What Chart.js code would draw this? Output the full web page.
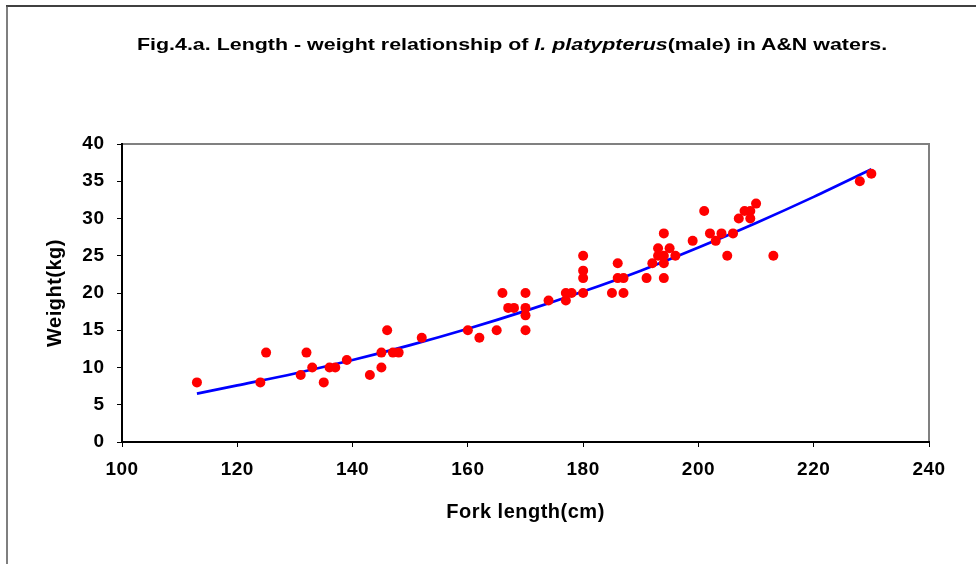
<!DOCTYPE html>
<html>
<head>
<meta charset="utf-8">
<script src="https://cdn.jsdelivr.net/npm/chart.js@4/dist/chart.umd.min.js"></script>
<style>
  body { margin: 0; background: #fff; }
  #wrap { position: relative; width: 976px; height: 564px; }
  #titulo {
    position: absolute; left: 0; width: 1024px; top: 35px;
    text-align: center; font: bold 17px "Liberation Sans", Arial, sans-serif;
    transform: scaleX(1.26); transform-origin: 512px 0; color: #000;
    white-space: nowrap;
  }
</style>
</head>
<body>
<div id="wrap">
  <canvas id="chart" width="976" height="564"></canvas>
  <div id="titulo">Fig.4.a. Length - weight relationship of <i>I. platypterus</i>(male) in A&amp;N waters.</div>
</div>
<script>
// Dados
const forkLength = [113, 124, 125, 131, 132, 133, 135, 136, 137, 139,
  143, 145, 145, 146, 147, 148, 152, 160, 162, 165,
  166, 167, 168, 170, 170, 170, 170, 174, 177, 177,
  178, 180, 180, 180, 180, 185, 186, 186, 187, 187,
  191, 192, 193, 193, 194, 194, 194, 194, 195, 196,
  199, 201, 202, 203, 204, 205, 206, 207, 208, 209,
  209, 210, 213, 228, 230];
const weight = [8, 8, 12, 9, 12, 10, 8, 10, 10, 11,
  9, 10, 12, 15, 12, 12, 14, 15, 14, 15,
  20, 18, 18, 20, 18, 17, 15, 19, 20, 19,
  20, 20, 22, 23, 25, 20, 22, 24, 22, 20,
  22, 24, 26, 25, 28, 24, 22, 25, 26, 25,
  27, 31, 28, 27, 28, 25, 28, 30, 31, 31,
  30, 32, 25, 35, 36];

// Curva de tendência (potência)
const curveLength = [113, 120, 130, 140, 150, 160, 170, 180, 190, 200, 210, 220, 230];
const curveWeight = [6.5, 7.6, 9.2, 11.0, 13.0, 15.2, 17.6, 20.2, 23.0, 26.1, 29.4, 32.9, 36.6];

const pontos = forkLength.map((x, i) => ({ x: x, y: weight[i] }));
const curva = curveLength.map((x, i) => ({ x: x, y: curveWeight[i] }));

const fonte = "'Liberation Sans', Arial, sans-serif";

// bordas: quadro externo e área do gráfico
const bordas = {
  id: "bordas",
  beforeDraw(chart) {
    const ctx = chart.ctx;
    const a = chart.chartArea;
    ctx.letterSpacing = "0.5px";
    ctx.save();
    ctx.strokeStyle = "#000";
    ctx.lineWidth = 1.5;
    ctx.beginPath();
    ctx.moveTo(6, 6);
    ctx.lineTo(976, 6);
    ctx.stroke();
    ctx.strokeStyle = "#555";
    ctx.beginPath();
    ctx.moveTo(7, 6);
    ctx.lineTo(7, 564);
    ctx.stroke();
    ctx.strokeStyle = "#808080";
    ctx.lineWidth = 2;
    ctx.strokeRect(a.left, a.top, a.right - a.left, a.bottom - a.top);
    ctx.restore();
  },
};

const ctx = document.querySelector("#chart").getContext("2d");
new Chart(ctx, {
  type: "scatter",
  data: {
    datasets: [
      {
        label: "Curva",
        data: curva,
        showLine: true,
        borderColor: "#0000FF",
        borderWidth: 2.7,
        pointRadius: 0,
        cubicInterpolationMode: "monotone",
        order: 1,
      },
      {
        label: "Observado",
        data: pontos,
        backgroundColor: "#FF0000",
        borderWidth: 0,
        pointRadius: 5,
        order: 0,
      },
    ],
  },
  options: {
    responsive: false,
    animation: false,
    layout: { padding: { top: 144, right: 47, bottom: 22, left: 10 } },
    plugins: {
      legend: { display: false },
      tooltip: { enabled: false },
    },
    scales: {
      x: {
        min: 100,
        max: 240,
        ticks: { stepSize: 20, color: "#000", padding: 11.5, font: { family: fonte, size: 19, weight: "bold" } },
        grid: { drawOnChartArea: false, drawTicks: true, tickLength: 5, color: "#000" },
        border: { color: "#000", width: 2 },
        title: {
          display: true,
          text: "Fork length(cm)",
          color: "#000",
          font: { family: fonte, size: 20, weight: "bold" },
          padding: { top: 0, bottom: 18 },
        },
        afterFit: (s) => { s.height = 100; },
      },
      y: {
        min: 0,
        max: 40,
        ticks: { stepSize: 5, color: "#000", padding: 12.5, font: { family: fonte, size: 19, weight: "bold" } },
        grid: { drawOnChartArea: false, drawTicks: true, tickLength: 5, color: "#000" },
        border: { color: "#000", width: 2 },
        title: {
          display: true,
          text: "Weight(kg)",
          color: "#000",
          font: { family: fonte, size: 20, weight: "bold" },
          padding: { top: 33, bottom: 0 },
        },
        afterFit: (s) => { s.width = 112; },
      },
    },
  },
  plugins: [bordas],
});
</script>
</body>
</html>
